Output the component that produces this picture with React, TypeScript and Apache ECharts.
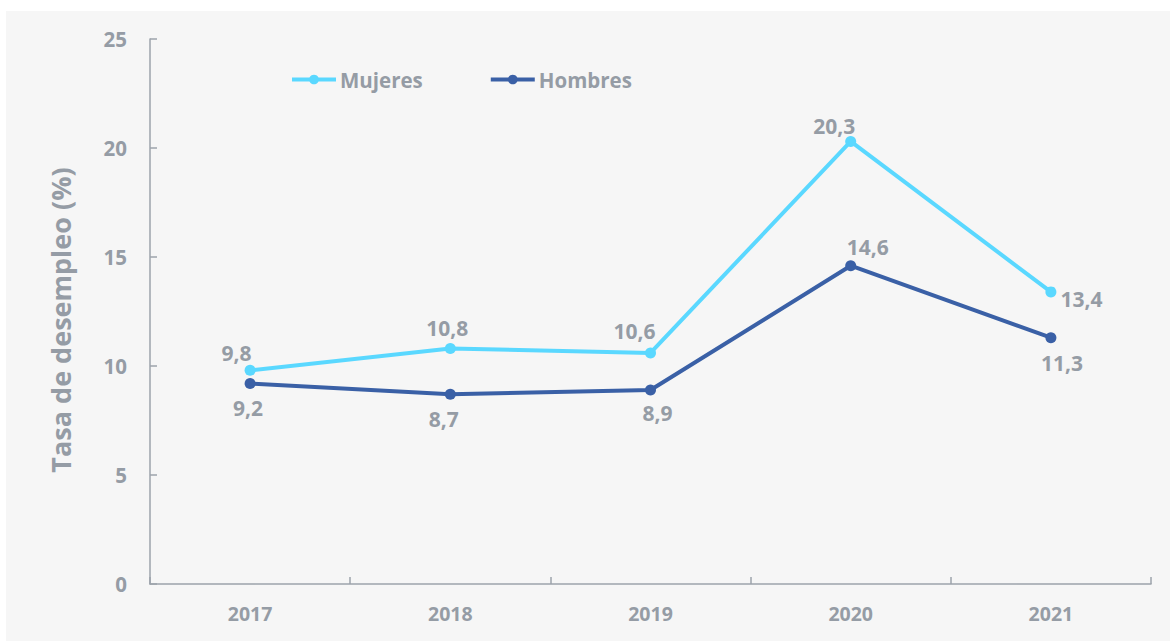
import React, { useEffect, useRef } from "react";
import * as echarts from "echarts";

const categories = ["2017", "2018", "2019", "2020", "2021"];
const mujeres = [9.8, 10.8, 10.6, 20.3, 13.4];
const hombres = [9.2, 8.7, 8.9, 14.6, 11.3];
const yTicks = [0, 5, 10, 15, 20, 25];

// label centre offsets (px) from each point
const mujeresLabelOffset = [[-13.5, -17], [-3, -20.5], [-16, -22], [-16.5, -15], [30.5, 7]];
const hombresLabelOffset = [[-2, 25], [-6.5, 25], [7, 23], [17, -19], [11, 25]];

const GRAY = "#959ca5";
const AXIS = "#9ca3ab";
const C_M = "#5ad8ff";
const C_H = "#3a60a6";
const FONT = "'Open Sans'";
const SYM = 11;

const fmt = (v: number) => v.toFixed(1).replace(".", ",");

export default function App() {
  const ref = useRef<HTMLDivElement>(null);
  useEffect(() => {
    document.body.style.margin = "0";
    const chart = echarts.init(ref.current!, null, { renderer: "svg" });
    const labelBase = {
      show: true,
      color: GRAY,
      fontSize: 21,
      fontWeight: "bold" as const,
      fontFamily: FONT,
      align: "center",
      verticalAlign: "middle",
      formatter: (p: any) => fmt(p.value),
    };
    const mkData = (vals: number[], offs: number[][]) =>
      vals.map((v, i) => ({
        value: v,
        label: { position: [offs[i][0] + SYM / 2, offs[i][1] + SYM / 2] },
      }));
    chart.setOption({
      animation: false,
      backgroundColor: "#ffffff",
      graphic: [
        {
          type: "rect",
          z: -10,
          shape: { x: 6, y: 11, width: 1164, height: 630 },
          style: { fill: "#f6f6f6" },
        },
        {
          type: "text",
          x: 60,
          y: 320,
          rotation: Math.PI / 2,
          style: {
            text: "Tasa de desempleo (%)",
            fill: GRAY,
            font: `bold 27px ${FONT}`,
            align: "center",
            verticalAlign: "middle",
          },
        },
      ],
      legend: {
        left: 285,
        top: 64,
        itemWidth: 44,
        itemHeight: 12,
        itemGap: 66,
        data: ["Mujeres", "Hombres"],
        lineStyle: { width: 4 },
        textStyle: {
          color: GRAY,
          fontSize: 20.5,
          fontWeight: "bold",
          fontFamily: FONT,
          padding: [0, 0, 0, -1],
        },
      },
      grid: { left: 150, right: 19, top: 39, bottom: 58 },
      xAxis: {
        type: "category",
        data: categories,
        boundaryGap: true,
        axisLine: { lineStyle: { color: AXIS, width: 1.5 } },
        axisTick: { show: true, inside: true, length: 7, lineStyle: { color: AXIS, width: 1.5 } },
        axisLabel: {
          color: GRAY,
          fontSize: 19.5,
          fontWeight: "bold",
          fontFamily: FONT,
          margin: 19,
        },
        splitLine: { show: false },
      },
      yAxis: {
        type: "value",
        min: yTicks[0],
        max: yTicks[yTicks.length - 1],
        interval: 5,
        axisLine: { show: true, lineStyle: { color: AXIS, width: 1.5 } },
        axisTick: { show: true, inside: true, length: 7, lineStyle: { color: AXIS, width: 1.5 } },
        axisLabel: {
          color: GRAY,
          fontSize: 20.5,
          fontWeight: "bold",
          fontFamily: FONT,
          margin: 23,
        },
        splitLine: { show: false },
      },
      series: [
        {
          name: "Mujeres",
          type: "line",
          data: mkData(mujeres, mujeresLabelOffset),
          color: C_M,
          lineStyle: { color: C_M, width: 4 },
          itemStyle: { color: C_M },
          symbol: "circle",
          symbolSize: SYM,
          label: labelBase,
        },
        {
          name: "Hombres",
          type: "line",
          data: mkData(hombres, hombresLabelOffset),
          color: C_H,
          lineStyle: { color: C_H, width: 4 },
          itemStyle: { color: C_H },
          symbol: "circle",
          symbolSize: SYM,
          label: labelBase,
        },
      ],
    });
    return () => chart.dispose();
  }, []);
  return <div ref={ref} style={{ width: 1170, height: 642 }} />;
}
